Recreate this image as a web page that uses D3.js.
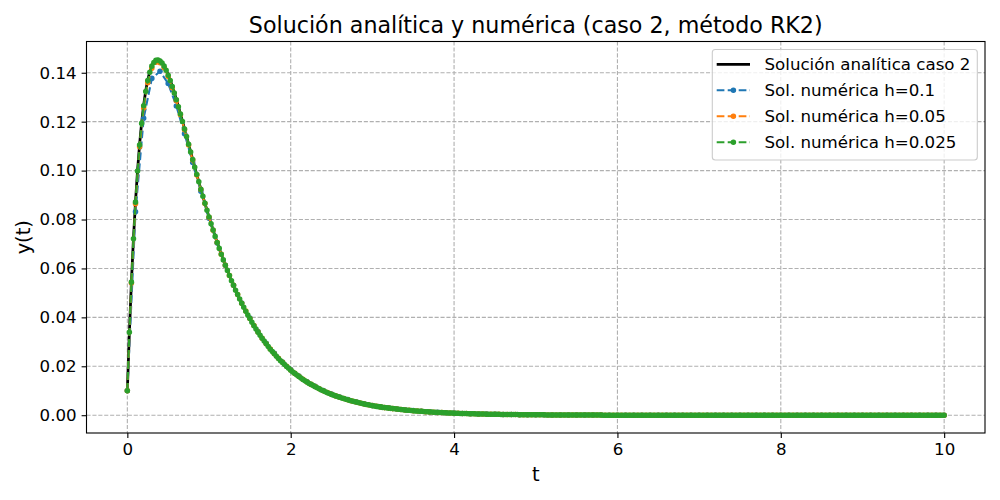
<!DOCTYPE html>
<html>
<head>
<meta charset="utf-8">
<script src="https://cdn.jsdelivr.net/npm/d3@7"></script>
<style>
  body { margin: 0; background: #fff; }
  svg { font-family: "DejaVu Sans", sans-serif; }
</style>
</head>
<body>
<div id="chart"></div>
<script>
// valores, t = i * paso
const pasoAnalitica = 0.025
const yAnalitica = [
  0.0100,0.0339,0.0546,0.0722,0.0873,0.1000,0.1107,0.1196,0.1268,0.1326,
  0.1371,0.1405,0.1429,0.1445,0.1453,0.1455,0.1451,0.1442,0.1429,0.1412,
  0.1392,0.1370,0.1345,0.1319,0.1291,0.1262,0.1232,0.1202,0.1171,0.1140,
  0.1108,0.1077,0.1046,0.1015,0.0984,0.0954,0.0924,0.0895,0.0866,0.0838,
  0.0810,0.0783,0.0757,0.0731,0.0706,0.0682,0.0658,0.0635,0.0613,0.0592,
  0.0571,0.0550,0.0531,0.0511,0.0493,0.0475,0.0458,0.0441,0.0425,0.0410,
  0.0395,0.0380,0.0366,0.0352,0.0339,0.0327,0.0315,0.0303,0.0292,0.0281,
  0.0270,0.0260,0.0251,0.0241,0.0232,0.0223,0.0215,0.0207,0.0199,0.0192,
  0.0184,0.0177,0.0171,0.0164,0.0158,0.0152,0.0146,0.0141,0.0136,0.0130,
  0.0126,0.0121,0.0116,0.0112,0.0108,0.0103,0.0100,0.0096,0.0092,0.0089,
  0.0085,0.0082,0.0079,0.0076,0.0073,0.0070,0.0068,0.0065,0.0063,0.0060,
  0.0058,0.0056,0.0054,0.0052,0.0050,0.0048,0.0046,0.0044,0.0043,0.0041,
  0.0039,0.0038,0.0036,0.0035,0.0034,0.0032,0.0031,0.0030,0.0029,0.0028,
  0.0027,0.0026,0.0025,0.0024,0.0023,0.0022,0.0021,0.0020,0.0020,0.0019,
  0.0018,0.0017,0.0017,0.0016,0.0016,0.0015,0.0014,0.0014,0.0013,0.0013,
  0.0012,0.0012,0.0011,0.0011,0.0011,0.0010,0.0010,0.0009,0.0009,0.0009,
  0.0008,0.0008,0.0008,0.0007,0.0007,0.0007,0.0007,0.0006,0.0006,0.0006,
  0.0006,0.0005,0.0005,0.0005,0.0005,0.0005,0.0004,0.0004,0.0004,0.0004,
  0.0004,0.0004,0.0004,0.0003,0.0003,0.0003,0.0003,0.0003,0.0003,0.0003,
  0.0003,0.0003,0.0002,0.0002,0.0002,0.0002,0.0002,0.0002,0.0002,0.0002,
  0.0002,0.0002,0.0002,0.0002,0.0002,0.0001,0.0001,0.0001,0.0001,0.0001,
  0.0001,0.0001,0.0001,0.0001,0.0001,0.0001,0.0001,0.0001,0.0001,0.0001,
  0.0001,0.0001,0.0001,0.0001,0.0001,0.0001,0.0001,0.0001,0.0001,0.0001,
  0.0001,0.0001,0.0001,0,0,0,0,0,0,0,
  0,0,0,0,0,0,0,0,0,0, 0,0,0,0,0,0,0,0,0,0,
  0,0,0,0,0,0,0,0,0,0, 0,0,0,0,0,0,0,0,0,0,
  0,0,0,0,0,0,0,0,0,0, 0,0,0,0,0,0,0,0,0,0,
  0,0,0,0,0,0,0,0,0,0, 0,0,0,0,0,0,0,0,0,0,
  0,0,0,0,0,0,0,0,0,0, 0,0,0,0,0,0,0,0,0,0,
  0,0,0,0,0,0,0,0,0,0, 0,0,0,0,0,0,0,0,0,0,
  0,0,0,0,0,0,0,0,0,0, 0,0,0,0,0,0,0,0,0,0,
  0,0,0,0,0,0,0,0,0,0, 0,0,0,0,0,0,0,0,0,0,
  0
]

const yH01 = [
  0.0100,0.0832,0.1214,0.1377,0.1406,0.1356,0.1264,0.1151,0.1033,0.0916,
  0.0805,0.0704,0.0613,0.0531,0.0459,0.0397,0.0342,0.0294,0.0253,0.0217,
  0.0187,0.0160,0.0137,0.0118,0.0101,0.0087,0.0074,0.0064,0.0055,0.0047,
  0.0040,0.0034,0.0030,0.0025,0.0022,0.0019,0.0016,0.0014,0.0012,0.0010,
  0.0009,0.0007,0.0006,0.0005,0.0005,0.0004,0.0003,0.0003,0.0002,0.0002,
  0.0002,0.0002,0.0001,0.0001,0.0001,0.0001,0.0001,0.0001,0.0001,0,
  0,0,0,0,0,0,0,0,0,0, 0,0,0,0,0,0,0,0,0,0,
  0,0,0,0,0,0,0,0,0,0, 0,0,0,0,0,0,0,0,0,0,
  0
]

const yH005 = [
  0.0100,0.0540,0.0864,0.1097,0.1256,0.1359,0.1418,0.1443,0.1441,0.1420,
  0.1385,0.1339,0.1286,0.1228,0.1167,0.1105,0.1043,0.0982,0.0923,0.0865,
  0.0809,0.0756,0.0706,0.0658,0.0613,0.0571,0.0531,0.0493,0.0458,0.0426,
  0.0395,0.0367,0.0340,0.0315,0.0292,0.0271,0.0251,0.0233,0.0216,0.0200,
  0.0185,0.0171,0.0159,0.0147,0.0136,0.0126,0.0117,0.0108,0.0100,0.0093,
  0.0086,0.0079,0.0073,0.0068,0.0063,0.0058,0.0054,0.0050,0.0046,0.0043,
  0.0040,0.0037,0.0034,0.0031,0.0029,0.0027,0.0025,0.0023,0.0021,0.0020,
  0.0018,0.0017,0.0016,0.0014,0.0013,0.0012,0.0011,0.0011,0.0010,0.0009,
  0.0008,0.0008,0.0007,0.0007,0.0006,0.0006,0.0005,0.0005,0.0004,0.0004,
  0.0004,0.0004,0.0003,0.0003,0.0003,0.0003,0.0002,0.0002,0.0002,0.0002,
  0.0002,0.0002,0.0002,0.0001,0.0001,0.0001,0.0001,0.0001,0.0001,0.0001,
  0.0001,0.0001,0.0001,0.0001,0.0001,0.0001,0.0001,0,0,0,
  0,0,0,0,0,0,0,0,0,0, 0,0,0,0,0,0,0,0,0,0,
  0,0,0,0,0,0,0,0,0,0, 0,0,0,0,0,0,0,0,0,0,
  0,0,0,0,0,0,0,0,0,0, 0,0,0,0,0,0,0,0,0,0,
  0,0,0,0,0,0,0,0,0,0, 0,0,0,0,0,0,0,0,0,0,
  0
]

const yH0025 = [
  0.0100,0.0339,0.0544,0.0721,0.0871,0.0998,0.1105,0.1193,0.1265,0.1323,
  0.1368,0.1402,0.1427,0.1442,0.1451,0.1452,0.1448,0.1440,0.1427,0.1410,
  0.1390,0.1368,0.1344,0.1317,0.1290,0.1261,0.1231,0.1201,0.1170,0.1139,
  0.1108,0.1076,0.1045,0.1014,0.0984,0.0954,0.0924,0.0895,0.0866,0.0838,
  0.0810,0.0783,0.0757,0.0731,0.0706,0.0682,0.0658,0.0635,0.0613,0.0592,
  0.0571,0.0550,0.0531,0.0511,0.0493,0.0475,0.0458,0.0441,0.0425,0.0410,
  0.0395,0.0380,0.0366,0.0352,0.0339,0.0327,0.0315,0.0303,0.0292,0.0281,
  0.0270,0.0260,0.0251,0.0241,0.0232,0.0223,0.0215,0.0207,0.0199,0.0192,
  0.0184,0.0177,0.0171,0.0164,0.0158,0.0152,0.0146,0.0141,0.0136,0.0130,
  0.0126,0.0121,0.0116,0.0112,0.0108,0.0103,0.0100,0.0096,0.0092,0.0089,
  0.0085,0.0082,0.0079,0.0076,0.0073,0.0070,0.0068,0.0065,0.0063,0.0060,
  0.0058,0.0056,0.0054,0.0052,0.0050,0.0048,0.0046,0.0044,0.0043,0.0041,
  0.0039,0.0038,0.0036,0.0035,0.0034,0.0032,0.0031,0.0030,0.0029,0.0028,
  0.0027,0.0026,0.0025,0.0024,0.0023,0.0022,0.0021,0.0020,0.0020,0.0019,
  0.0018,0.0017,0.0017,0.0016,0.0016,0.0015,0.0014,0.0014,0.0013,0.0013,
  0.0012,0.0012,0.0011,0.0011,0.0011,0.0010,0.0010,0.0009,0.0009,0.0009,
  0.0008,0.0008,0.0008,0.0007,0.0007,0.0007,0.0007,0.0006,0.0006,0.0006,
  0.0006,0.0005,0.0005,0.0005,0.0005,0.0005,0.0004,0.0004,0.0004,0.0004,
  0.0004,0.0004,0.0004,0.0003,0.0003,0.0003,0.0003,0.0003,0.0003,0.0003,
  0.0003,0.0003,0.0002,0.0002,0.0002,0.0002,0.0002,0.0002,0.0002,0.0002,
  0.0002,0.0002,0.0002,0.0002,0.0002,0.0001,0.0001,0.0001,0.0001,0.0001,
  0.0001,0.0001,0.0001,0.0001,0.0001,0.0001,0.0001,0.0001,0.0001,0.0001,
  0.0001,0.0001,0.0001,0.0001,0.0001,0.0001,0.0001,0.0001,0.0001,0.0001,
  0.0001,0.0001,0.0001,0,0,0,0,0,0,0,
  0,0,0,0,0,0,0,0,0,0, 0,0,0,0,0,0,0,0,0,0,
  0,0,0,0,0,0,0,0,0,0, 0,0,0,0,0,0,0,0,0,0,
  0,0,0,0,0,0,0,0,0,0, 0,0,0,0,0,0,0,0,0,0,
  0,0,0,0,0,0,0,0,0,0, 0,0,0,0,0,0,0,0,0,0,
  0,0,0,0,0,0,0,0,0,0, 0,0,0,0,0,0,0,0,0,0,
  0,0,0,0,0,0,0,0,0,0, 0,0,0,0,0,0,0,0,0,0,
  0,0,0,0,0,0,0,0,0,0, 0,0,0,0,0,0,0,0,0,0,
  0,0,0,0,0,0,0,0,0,0, 0,0,0,0,0,0,0,0,0,0,
  0
]

const pasos = [0.1, 0.05, 0.025]
const etiquetas = ["Solución analítica caso 2", "Sol. numérica h=0.1", "Sol. numérica h=0.05", "Sol. numérica h=0.025"]
const colores = ["#000000", "#1f77b4", "#ff7f0e", "#2ca02c"]
const xTicks = [0, 2, 4, 6, 8, 10]
const yTicks = [0, 0.02, 0.04, 0.06, 0.08, 0.10, 0.12, 0.14]

var W = 1000, H = 500
var m = {left: 86.5, right: 985, top: 41.5, bottom: 433}
var fs = 16.67 // 12pt

var series = [
    {label: etiquetas[1], paso: pasos[0], y: yH01, color: colores[1]},
    {label: etiquetas[2], paso: pasos[1], y: yH005, color: colores[2]},
    {label: etiquetas[3], paso: pasos[2], y: yH0025, color: colores[3]}
]
var analitica = yAnalitica.map((v, i) => ({t: i * pasoAnalitica, y: v}))
series.forEach(s => { s.pts = s.y.map((v, i) => ({t: i * s.paso, y: v})) })

// limites como matplotlib (margen 5%)
var allPts = analitica.concat(...series.map(s => s.pts))
var tExt = d3.extent(allPts, d => d.t)
var yExt = d3.extent(allPts, d => d.y)
var tPad = 0.05 * (tExt[1] - tExt[0]), yPad = 0.05 * (yExt[1] - yExt[0])

var x = d3.scaleLinear().domain([tExt[0] - tPad, tExt[1] + tPad]).range([m.left, m.right])
var y = d3.scaleLinear().domain([yExt[0] - yPad, yExt[1] + yPad]).range([m.bottom, m.top])

var svg = d3.select('#chart').append('svg')
    .attr('width', W).attr('height', H)
svg.append('rect').attr('width', W).attr('height', H).attr('fill', '#fff')

svg.append('clipPath').attr('id', 'clip')
    .append('rect')
    .attr('x', m.left).attr('y', m.top)
    .attr('width', m.right - m.left).attr('height', m.bottom - m.top)

// grid
var grid = svg.append('g')
grid.selectAll('.gx').data(xTicks).enter().append('line')
    .attr('x1', d => x(d)).attr('x2', d => x(d))
    .attr('y1', m.top).attr('y2', m.bottom)
grid.selectAll('.gy').data(yTicks).enter().append('line')
    .attr('x1', m.left).attr('x2', m.right)
    .attr('y1', d => y(d)).attr('y2', d => y(d))
grid.selectAll('line')
    .attr('stroke', '#b0b0b0').attr('stroke-width', 1.1)
    .attr('stroke-dasharray', '4.1,1.8')

var plot = svg.append('g').attr('clip-path', 'url(#clip)')
var line = d3.line().x(d => x(d.t)).y(d => y(d.y))

plot.append('path').datum(analitica)
    .attr('d', line)
    .attr('fill', 'none').attr('stroke', colores[0]).attr('stroke-width', 2.78)

series.forEach(s => {
    var g = plot.append('g')
    g.append('path').datum(s.pts)
        .attr('d', line)
        .attr('fill', 'none').attr('stroke', s.color).attr('stroke-width', 2.08)
        .attr('stroke-dasharray', '7.7,3.3')
    g.selectAll('circle').data(s.pts).enter().append('circle')
        .attr('cx', d => x(d.t)).attr('cy', d => y(d.y))
        .attr('r', 2.08)
        .attr('fill', s.color).attr('stroke', s.color).attr('stroke-width', 1.39)
})

// ejes
var xAxis = svg.append('g').attr('transform', 'translate(0,' + m.bottom + ')')
    .call(d3.axisBottom(x).tickValues(xTicks).tickFormat(d3.format('d')).tickSize(4.9).tickPadding(4.9))
var yAxis = svg.append('g').attr('transform', 'translate(' + m.left + ',0)')
    .call(d3.axisLeft(y).tickValues(yTicks).tickFormat(d3.format('.2f')).tickSize(4.9).tickPadding(4.9))
;[xAxis, yAxis].forEach(a => {
    a.select('.domain').remove()
    a.selectAll('line').attr('stroke', '#000').attr('stroke-width', 1.1)
    a.selectAll('text').attr('fill', '#000').style('font-size', fs + 'px')
        .style('font-family', '"DejaVu Sans", sans-serif')
})

svg.append('rect')
    .attr('x', m.left).attr('y', m.top)
    .attr('width', m.right - m.left).attr('height', m.bottom - m.top)
    .attr('fill', 'none').attr('stroke', '#000').attr('stroke-width', 1.1)

// textos
svg.append('text')
    .attr('x', (m.left + m.right) / 2).attr('y', 33)
    .attr('text-anchor', 'middle').style('font-size', '22.2px')
    .text('Solución analítica y numérica (caso 2, método RK2)')
svg.append('text')
    .attr('x', (m.left + m.right) / 2).attr('y', 481)
    .attr('text-anchor', 'middle').style('font-size', '19.4px')
    .text('t')
svg.append('text')
    .attr('transform', 'translate(30,' + ((m.top + m.bottom) / 2) + ') rotate(-90)')
    .attr('text-anchor', 'middle').style('font-size', '19.4px')
    .text('y(t)')

// leyenda
var leg = svg.append('g')
leg.append('rect')
    .attr('x', 712.3).attr('y', 49.5).attr('width', 265).attr('height', 110.5)
    .attr('rx', 3).attr('fill', '#fff').attr('fill-opacity', 0.8)
    .attr('stroke', '#cccccc').attr('stroke-width', 1.1)
var items = [{label: etiquetas[0], color: colores[0], marker: false}]
    .concat(series.map(s => ({label: s.label, color: s.color, marker: true})))
var row = leg.selectAll('.item').data(items).enter().append('g')
    .attr('transform', (d, i) => 'translate(0,' + (64.3 + i * 26) + ')')
row.append('line')
    .attr('x1', 716.7).attr('x2', 750).attr('y1', 0).attr('y2', 0)
    .attr('stroke', d => d.color)
    .attr('stroke-width', d => d.marker ? 2.08 : 2.78)
    .attr('stroke-dasharray', d => d.marker ? '7.7,3.3' : null)
row.filter(d => d.marker).append('circle')
    .attr('cx', 733.4).attr('cy', 0).attr('r', 2.08)
    .attr('fill', d => d.color).attr('stroke', d => d.color).attr('stroke-width', 1.39)
row.append('text')
    .attr('x', 764.5).attr('y', 0).attr('dy', '0.36em')
    .style('font-size', fs + 'px')
    .text(d => d.label)
</script>
</body>
</html>
